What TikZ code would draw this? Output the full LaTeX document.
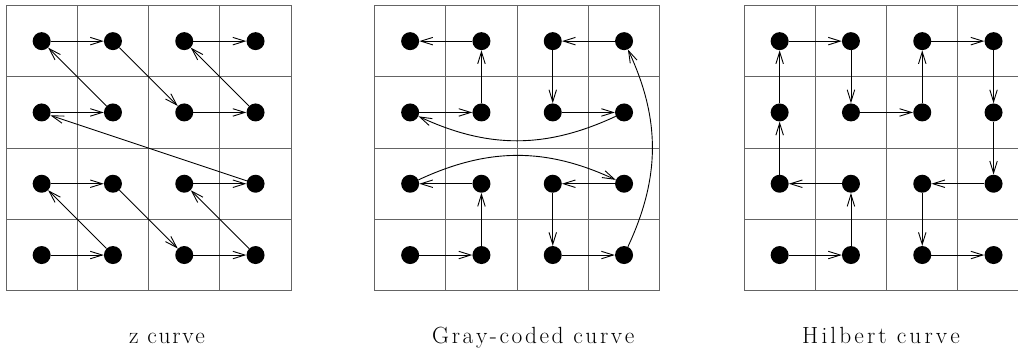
\documentclass[tikz,border=0pt]{standalone}
\usepackage{fontspec}
\usetikzlibrary{arrows.meta}
\definecolor{gridgray}{RGB}{100,100,100}
\def\lsword#1{\lswordA#1\relax}
\def\lswordA#1{\ifx\relax#1\else#1\kern\lsk\expandafter\lswordA\fi}
\begin{document}
\begin{tikzpicture}[x=1pt,y=1pt,
  gridline/.style={draw=gridgray, line width=1pt},
  dot/.style={circle, fill=black, inner sep=0pt, minimum size=18pt},
  link/.style={line width=0.9pt, -{Straight Barb[length=12pt,width=7.5pt]}},
  lbl/.style={anchor=base west, inner sep=0pt, font=\fontsize{23.4}{28}\selectfont}]
\useasboundingbox (0,0) rectangle (1018,352);
\clip (0,0) rectangle (1018,352);
\foreach \g/\xo in {a/6, b/374.5, c/744} {
  \foreach \i in {0,...,4} {
    \draw[gridline] (\xo+\i*71.3, 61.3) -- (\xo+\i*71.3, 346.5);
    \draw[gridline] (\xo, 61.3+\i*71.3) -- (\xo+285.2, 61.3+\i*71.3);
  }
  \foreach \r in {0,...,3} {
    \foreach \c in {0,...,3} {
      \node[dot] (\g\r\c) at (\xo+71.3*\c+35.65, 346.5-71.3*\r-35.65) {};
    }
  }
}
% z curve
\foreach \s/\t in {30/31, 31/20, 20/21, 21/32, 32/33, 33/22, 22/23, 23/10, 10/11, 11/00, 00/01, 01/12, 12/13, 13/02, 02/03}
  \draw[link] (a\s) -- (a\t);
% Gray-coded curve
\foreach \s/\t in {30/31, 31/21, 21/20, 23/22, 22/32, 32/33, 03/02, 02/12, 12/13, 10/11, 11/01, 01/00}
  \draw[link] (b\s) -- (b\t);
\draw[link] (b20) to[bend left=25] (b23);
\draw[link] (b33) to[bend right=25] (b03);
\draw[link] (b13) to[bend left=25] (b10);
% Hilbert curve
\foreach \s/\t in {30/31, 31/21, 21/20, 20/10, 10/00, 00/01, 01/11, 11/12, 12/02, 02/03, 03/13, 13/23, 23/22, 22/32, 32/33}
  \draw[link] (c\s) -- (c\t);
% labels
\node[lbl] (la) at (129,8) {\def\lsk{1.7pt}\lsword{z}\ \lsword{curve}};
\node[lbl] (lb) at (432,8) {\def\lsk{2.6pt}\lsword{Gray-coded}\ \lsword{curve}};
\node[lbl] (lc) at (802,8) {\def\lsk{3.1pt}\lsword{Hilbert}\ \lsword{curve}};
\end{tikzpicture}
\end{document}
